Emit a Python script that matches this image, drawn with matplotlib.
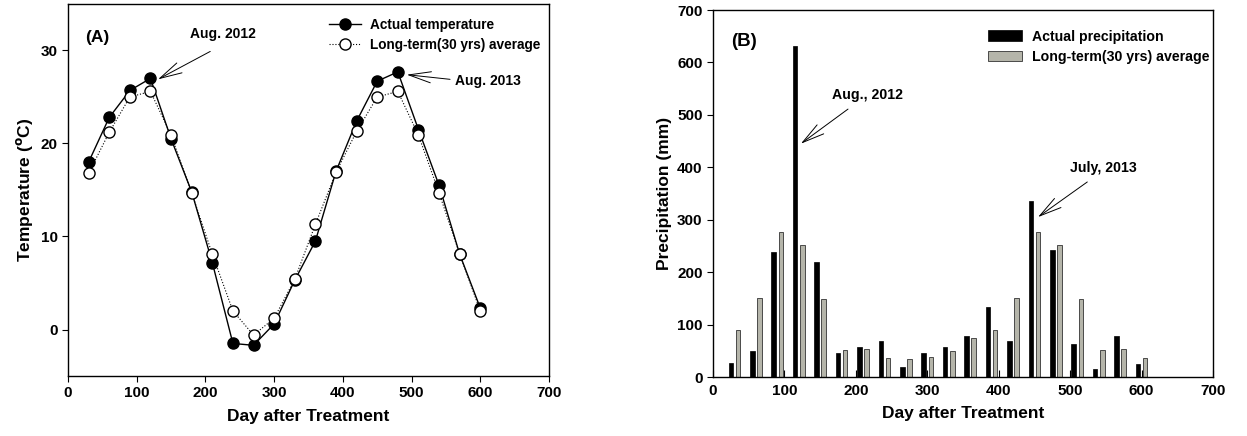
import matplotlib
matplotlib.use("Agg")
import matplotlib.pyplot as plt
import numpy as np

plt.rcParams['font.family'] = ['Liberation Sans', 'DejaVu Sans']
plt.rcParams['font.weight'] = 'bold'
plt.rcParams['mathtext.default'] = 'bf'

# ---- Data ----
days = [30, 60, 90, 120, 150, 180, 210, 240, 270, 300,
        330, 360, 390, 420, 450, 480, 510, 540, 570, 600]
temp_actual = [18.0, 22.8, 25.7, 27.0, 20.5, 14.8, 7.2, -1.5, -1.7, 0.6,
               5.3, 9.5, 17.0, 22.4, 26.7, 27.7, 21.5, 15.5, 8.1, 2.3]
temp_longterm = [16.8, 21.2, 25.0, 25.6, 20.9, 14.7, 8.1, 2.0, -0.6, 1.2,
                 5.4, 11.3, 16.9, 21.3, 25.0, 25.6, 20.9, 14.7, 8.1, 2.0]

precip_actual = [26, 50, 239, 632, 220, 45, 58, 69, 20, 45,
                 57, 78, 134, 69, 335, 242, 62, 15, 78, 24]
precip_longterm = [89, 151, 276, 251, 148, 51, 54, 37, 34, 38,
                   49, 74, 89, 151, 276, 251, 148, 51, 54, 37]

x_ticks = [0, 100, 200, 300, 400, 500, 600, 700]
temp_ticks = [0, 10, 20, 30]
precip_ticks = [0, 100, 200, 300, 400, 500, 600, 700]

W, H = 1247, 436
fig = plt.figure(figsize=(W / 100, H / 100), dpi=100)

arrow_kw = dict(arrowstyle='->,head_length=1.6,head_width=0.4', lw=0.7,
                color='black', shrinkA=0, shrinkB=0)

# ---- Panel A ----
ax1 = fig.add_axes([68 / W, 1 - 376 / H, (549 - 68) / W, (376 - 4) / H])
ax1.plot(days, temp_actual, '-', color='black', lw=1.0, marker='o',
         ms=8, mfc='black', mec='black', label='Actual temperature', zorder=3)
ax1.plot(days, temp_longterm, ':', color='black', lw=0.8, marker='o',
         ms=8, mfc='white', mec='black', mew=1.0,
         label='Long-term(30 yrs) average', zorder=4)
ax1.set_xlim(0, 700)
ax1.set_ylim(-5, 35)
ax1.set_xticks(x_ticks)
ax1.set_yticks(temp_ticks)
ax1.tick_params(direction='out', length=4, labelsize=11, width=0.8)
for lab in ax1.get_xticklabels() + ax1.get_yticklabels():
    lab.set_fontweight('bold')
ax1.set_xlabel('Day after Treatment', fontsize=12.5, fontweight='bold', labelpad=6)
ax1.set_ylabel(r'Temperature ($^{o}$C)', fontsize=12.5, fontweight='bold', labelpad=4)
ax1.text(0.035, 0.911, '(A)', transform=ax1.transAxes, fontsize=12.5,
         fontweight='bold', va='center', ha='left')
ax1.legend(loc='upper right', bbox_to_anchor=(0.9925, 0.977), frameon=False,
           prop={'weight': 'bold', 'size': 9.8}, handlelength=2.4,
           handletextpad=0.6, borderaxespad=0.0, labelspacing=0.45)
ax1.text(226, 31.8, 'Aug. 2012', fontsize=10.0, fontweight='bold', ha='center', va='center')
ax1.annotate('', xy=(131, 26.9), xytext=(207, 29.9), arrowprops=arrow_kw)
ax1.text(611, 26.7, 'Aug. 2013', fontsize=10.0, fontweight='bold', ha='center', va='center')
ax1.annotate('', xy=(493, 27.4), xytext=(556, 26.9), arrowprops=arrow_kw)
for s in ax1.spines.values():
    s.set_linewidth(1.0)

# ---- Panel B ----
ax2 = fig.add_axes([713 / W, 1 - 377 / H, (1213 - 713) / W, (377 - 10) / H])
days_arr = np.array(days)
bw = 6.5
ax2.bar(days_arr - 5, precip_actual, width=bw, color='black', edgecolor='black',
        lw=0.5, label='Actual precipitation')
ax2.bar(days_arr + 5, precip_longterm, width=bw, color='#b5b5aa', edgecolor='#333333',
        lw=0.6, label='Long-term(30 yrs) average')
ax2.set_xlim(0, 700)
ax2.set_ylim(0, 700)
ax2.set_xticks(x_ticks)
ax2.set_yticks(precip_ticks)
ax2.tick_params(axis='y', direction='out', length=4, labelsize=11, width=0.8)
ax2.tick_params(axis='x', direction='in', length=5, labelsize=11, width=0.8, pad=5)
for lab in ax2.get_xticklabels() + ax2.get_yticklabels():
    lab.set_fontweight('bold')
ax2.set_xlabel('Day after Treatment', fontsize=12.5, fontweight='bold', labelpad=6)
ax2.set_ylabel('Precipitation (mm)', fontsize=12.5, fontweight='bold', labelpad=4)
ax2.text(0.036, 0.913, '(B)', transform=ax2.transAxes, fontsize=13.5,
         fontweight='bold', va='center', ha='left')
ax2.legend(loc='upper right', bbox_to_anchor=(1.005, 0.962), frameon=False,
           prop={'weight': 'bold', 'size': 10.2}, handlelength=2.4,
           handleheight=0.75, handletextpad=0.7, borderaxespad=0.0, labelspacing=0.45)
ax2.text(216, 538, 'Aug., 2012', fontsize=10.2, fontweight='bold', ha='center', va='center')
ax2.annotate('', xy=(123, 445), xytext=(189, 511), arrowprops=arrow_kw)
ax2.text(546, 399, 'July, 2013', fontsize=10.2, fontweight='bold', ha='center', va='center')
ax2.annotate('', xy=(455, 305), xytext=(524, 372), arrowprops=arrow_kw)
for s in ax2.spines.values():
    s.set_linewidth(1.0)

fig.savefig('out.png', dpi=100)
